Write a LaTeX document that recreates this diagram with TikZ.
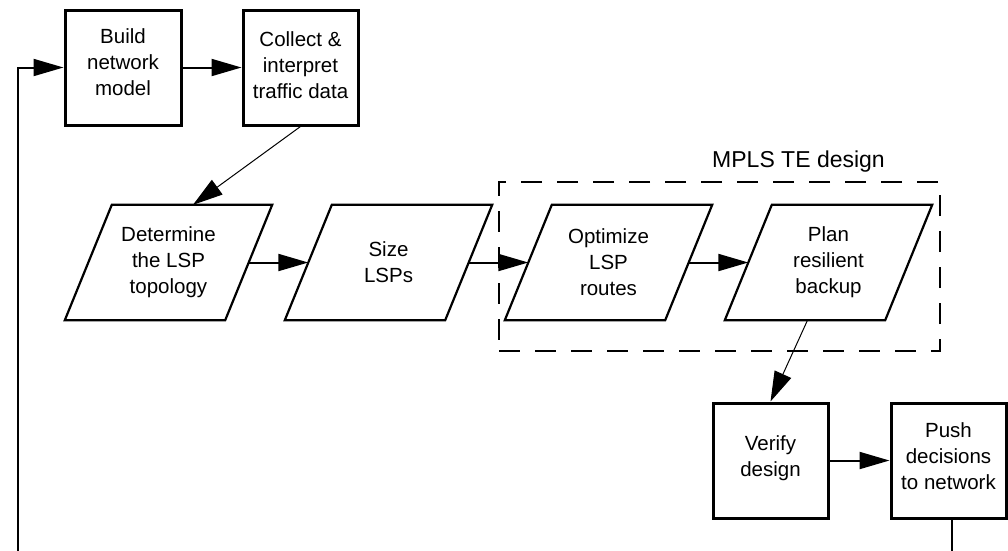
\documentclass[tikz,border=0pt]{standalone}
\usepackage{fontspec}
\setmainfont{Liberation Sans}
\usetikzlibrary{arrows.meta}
\begin{document}
\begin{tikzpicture}[x=1pt,y=-1pt,
  txt/.style={font=\fontsize{20.5}{26}\selectfont, align=center, inner sep=0pt},
  procbox/.style={txt, draw, line width=3pt, minimum width=115pt, minimum height=115pt},
  parabox/.style={txt, minimum width=160pt, minimum height=115pt},
  paraline/.style={line width=2.2pt, line join=miter},
  conn/.style={line width=2pt, -{Triangle[length=30pt,width=17pt]}},
  thin/.style={line width=1pt, -{Triangle[length=30pt,width=18pt]}},
  group/.style={draw, line width=2pt, dash pattern=on 21pt off 15pt, minimum width=441pt, minimum height=169pt}
]
\useasboundingbox (0,0) rectangle (1008,550);
\clip (0,0) rectangle (1008,550);

% top boxes
\node[procbox, minimum width=116pt, text depth=10pt] (build) at (123,67.5) {Build\\network\\model};
\node[procbox, text depth=4pt] (collect) at (300.5,67.5) {Collect \&\\interpret\\traffic data};

% parallelograms
\node[parabox] (det)  at (168.5,262.5) {Determine\\the LSP\\topology};
\node[parabox] (size) at (388.5,262.5) {Size\\LSPs};
\node[parabox] (opt)  at (608.5,262.5) {Optimize\\LSP\\routes};
\node[parabox] (plan) at (828.5,262.5) {Plan\\resilient\\backup};
\foreach \n in {det,size,opt,plan}
  \draw[paraline] ([xshift=-23.5pt]\n.south west) -- ([xshift=-23.5pt]\n.south east)
     -- ([xshift=23.5pt]\n.north east) -- ([xshift=23.5pt]\n.north west) -- cycle;

% group
\node[group] (te) at (719.5,266.5) {};
\node[anchor=base, font=\fontsize{23}{27}\selectfont, inner sep=0pt] (telabel) at (798.5,167) {MPLS TE design};

% bottom boxes
\node[procbox, text depth=8.5pt] (verify) at (770.5,460.5) {Verify\\design};
\node[procbox, text depth=8pt] (push) at (948.5,460.5) {Push\\decisions\\to network};

% connectors
\draw[conn] (build.east) -- (collect.west);
\draw[thin] (collect.south) -- (det.67);
\draw[conn] (det.east) -- (size.west);
\draw[conn] (size.east) -- (opt.west);
\draw[conn] (opt.east) -- (plan.west);
\draw[thin] (plan.250) -- (verify.north);
\draw[conn] (verify.east) -- (push.west);

% feedback loop
\coordinate (fb) at (18,560);
\draw[conn] ([xshift=3.5pt]push.south) |- (fb) |- (build.west);
\end{tikzpicture}
\end{document}
